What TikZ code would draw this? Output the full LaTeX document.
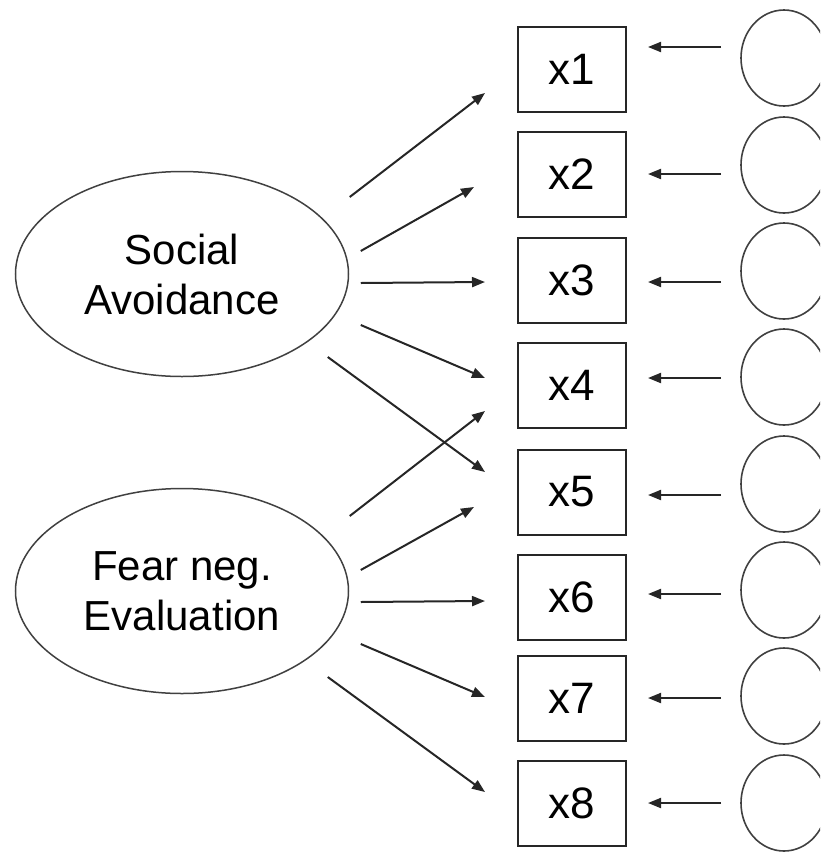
\documentclass[tikz,border=0pt]{standalone}
\usepackage{fontspec}
\setmainfont{Liberation Sans}
\usetikzlibrary{shapes.geometric, arrows.meta, positioning, calc}
\tikzset{
  factor/.style    = {draw=black!75, ellipse, line width=0.75pt, align=center,
                      minimum width=166.5pt, minimum height=102.5pt,
                      font=\fontsize{21}{25}\selectfont, inner sep=0pt},
  indicator/.style = {draw=black!85, line width=1pt, minimum width=54pt,
                      minimum height=42.5pt, font=\fontsize{22}{26}\selectfont, inner sep=0pt},
  resid/.style     = {draw=black!75, ellipse, line width=0.8pt, minimum width=43pt,
                      minimum height=48pt, inner sep=0pt},
  loading/.style   = {-{Triangle[length=6.5pt,width=5pt]}, line width=1pt, draw=black!85}
}
\begin{document}
\begin{tikzpicture}[x=0.5pt, y=-0.5pt]
\useasboundingbox (0,0) rectangle (820,852);
\clip (0,0) rectangle (820,852);
% latent factors
\node[factor] (sa)  at (182,274) {Social\\Avoidance};
\node[factor] (fne) at (182,591) {Fear neg.\\Evaluation};
% observed items
\node[indicator] (x1) at (572,69.5)  {x1};
\node[indicator] (x2) at (572,174.5) {x2};
\node[indicator] (x3) at (572,280.5) {x3};
\node[indicator] (x4) at (572,385)   {x4};
\node[indicator] (x5) at (572,492)   {x5};
\node[indicator] (x6) at (572,597.5) {x6};
\node[indicator] (x7) at (572,698.5) {x7};
\node[indicator] (x8) at (572,803)   {x8};
% error terms
\node[resid] (e1) at (784,58)  {};
\node[resid] (e2) at (784,165) {};
\node[resid] (e3) at (784,271) {};
\node[resid] (e4) at (784,377) {};
\node[resid] (e5) at (784,484) {};
\node[resid] (e6) at (784,590) {};
\node[resid] (e7) at (784,696) {};
\node[resid] (e8) at (784,803) {};
% loadings
\draw[loading] ([shift={(0.5,-77)}]sa.east)  -- ([shift={(-32,23.5)}]x1.west);
\draw[loading] ([shift={(11.5,-23)}]sa.east) -- ([shift={(-43,12.5)}]x2.west);
\draw[loading] ([shift={(11.5,9)}]sa.east)   -- ([shift={(-32,1.5)}]x3.west);
\draw[loading] ([shift={(11.5,51)}]sa.east)  -- ([shift={(-32,-7)}]x4.west);
\draw[loading] ([shift={(-21.5,83)}]sa.east) -- ([shift={(-32,-20)}]x5.west);
\draw[loading] ([shift={(0.5,-75)}]fne.east)  -- ([shift={(-32,26)}]x4.west);
\draw[loading] ([shift={(11.5,-21)}]fne.east) -- ([shift={(-43,15)}]x5.west);
\draw[loading] ([shift={(11.5,11)}]fne.east)  -- ([shift={(-32,3.5)}]x6.west);
\draw[loading] ([shift={(11.5,53)}]fne.east)  -- ([shift={(-32,-1.5)}]x7.west);
\draw[loading] ([shift={(-21.5,86)}]fne.east) -- ([shift={(-32,-11)}]x8.west);
% errors
\draw[loading] ([shift={(-19,-11)}]e1.west) -- ([shift={(21,-22.5)}]x1.east);
\draw[loading] ([shift={(-19,9)}]e2.west)   -- ([shift={(21,-0.5)}]x2.east);
\draw[loading] ([shift={(-19,11)}]e3.west)  -- ([shift={(21,1.5)}]x3.east);
\draw[loading] ([shift={(-19,1)}]e4.west)   -- ([shift={(21,-7)}]x4.east);
\draw[loading] ([shift={(-19,11)}]e5.west)  -- ([shift={(21,3)}]x5.east);
\draw[loading] ([shift={(-19,4)}]e6.west)   -- ([shift={(21,-3.5)}]x6.east);
\draw[loading] ([shift={(-19,2)}]e7.west)   -- ([shift={(21,-0.5)}]x7.east);
\draw[loading] ([shift={(-19,0)}]e8.west)   -- ([shift={(21,0)}]x8.east);
\end{tikzpicture}
\end{document}
